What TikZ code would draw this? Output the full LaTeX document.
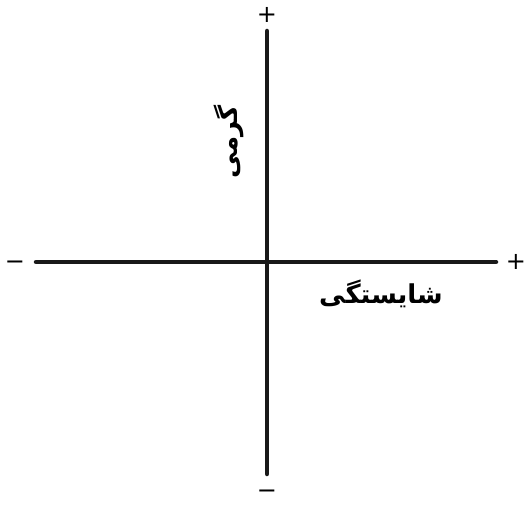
\documentclass[tikz,border=0pt]{standalone}
\usepackage{fontspec}
\setmainfont{DejaVu Sans}
\newfontfamily\arabicfont[Script=Arabic]{DejaVu Sans}
\TeXXeTstate=1
\begin{document}
\begin{tikzpicture}[x=1pt,y=-1pt,
  axis/.style={line width=4.5pt,line cap=round,draw=black!90},
  sign/.style={font=\fontsize{24}{24}\selectfont,inner sep=0pt,text height=15pt,text depth=0pt},
  lab/.style={font=\arabicfont\bfseries\fontsize{26}{26}\selectfont,inner sep=0pt}]
\useasboundingbox (0,0) rectangle (525,505);
\coordinate (top) at (267,31);
\coordinate (bot) at (267,474);
\coordinate (left) at (36,262);
\coordinate (right) at (496,262);
\draw[axis] (top) -- (bot);
\draw[axis] (left) -- (right);
\node[sign] (ptop) at (267,15) {+};
\node[sign] (mbot) at (267,491) {−};
\node[sign] (mleft) at (15,262) {−};
\node[sign] (pright) at (516,262) {+};
\node[lab] (sh) at (381,294) {\beginR شایستگی\endR};
\node[lab,rotate=90] (gr) at (229,142) {\beginR گرمی\endR};
\end{tikzpicture}
\end{document}
